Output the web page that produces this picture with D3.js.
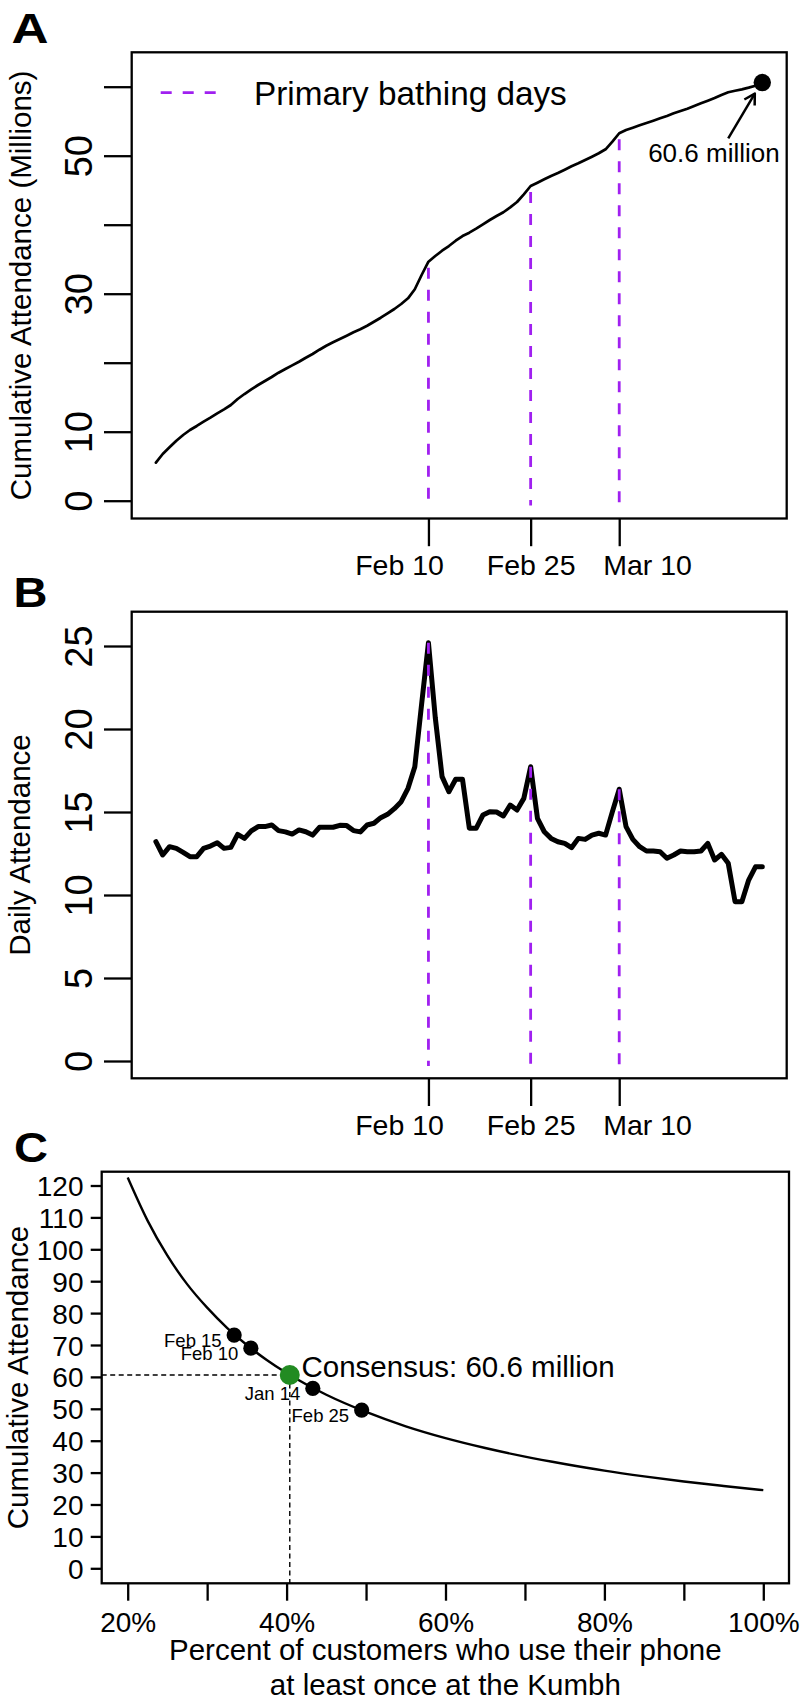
<!DOCTYPE html>
<html><head><meta charset="utf-8">
<script src="https://cdnjs.cloudflare.com/ajax/libs/d3/7.8.5/d3.min.js"></script>
<style>
body{margin:0;background:#fff}
svg{display:block;background:#fff}
text{font-family:"Liberation Sans",Arial,Helvetica,sans-serif}
</style>
</head><body>
<svg id="chart" width="800" height="1702"></svg>
<script>
// ---------------- DATA ----------------
const firstDay = "2013-01-01";
const lastDay = "2013-03-31";
const cumulativeMillions = [
  5.51, 6.77, 7.74, 8.70, 9.52, 10.25, 10.83, 11.45, 12.03, 12.66,
  13.24, 13.87, 14.74, 15.46, 16.14, 16.77, 17.35, 17.93, 18.55, 19.09,
  19.62, 20.14, 20.72, 21.26, 21.88, 22.46, 22.96, 23.43, 23.91, 24.41,
  24.84, 25.36, 25.94, 26.52, 27.16, 27.78, 28.51, 29.33, 30.64, 32.71,
  34.64, 35.46, 36.23, 36.91, 37.68, 38.36, 38.84, 39.42, 40.06, 40.68,
  41.26, 41.80, 42.52, 43.29, 44.41, 45.61, 46.09, 46.58, 47.06, 47.49,
  47.97, 48.46, 48.90, 49.38, 49.86, 50.35, 50.93, 52.03, 53.25, 53.72,
  54.06, 54.41, 54.74, 55.07, 55.42, 55.75, 56.14, 56.48, 56.81, 57.20,
  57.59, 57.97, 58.36, 58.80, 59.19, 59.42, 59.62, 59.86, 60.14, 60.60
];
const dailyAttendance = [
  13.21, 12.41, 12.91, 12.81, 12.57, 12.31, 12.31, 12.81, 12.95, 13.15,
  12.81, 12.87, 13.65, 13.41, 13.86, 14.12, 14.12, 14.22, 13.88, 13.80,
  13.67, 13.92, 13.81, 13.61, 14.08, 14.08, 14.08, 14.20, 14.18, 13.88,
  13.80, 14.22, 14.32, 14.66, 14.86, 15.20, 15.62, 16.43, 17.73, 21.50,
  25.20, 20.70, 17.13, 16.22, 16.97, 16.97, 14.02, 14.02, 14.82, 15.02,
  15.00, 14.76, 15.42, 15.12, 15.82, 17.73, 14.62, 13.81, 13.41, 13.21,
  13.11, 12.85, 13.41, 13.35, 13.61, 13.72, 13.61, 15.02, 16.37, 14.12,
  13.35, 12.91, 12.65, 12.65, 12.61, 12.21, 12.41, 12.65, 12.61, 12.61,
  12.65, 13.11, 12.11, 12.45, 11.91, 9.60, 9.60, 10.90, 11.70, 11.70
];
const bathingDays = ["2013-02-10", "2013-02-25", "2013-03-10"];
const bathingLabels = ["Feb 10", "Feb 25", "Mar 10"];
const cumTicks = [0, 10, 20, 30, 40, 50, 60];
const cumTickLabels = ["0", "10", "", "30", "", "50", ""];
const dailyTicks = [0, 5, 10, 15, 20, 25];
const legendLabel = "Primary bathing days";
const finalLabel = "60.6 million";
const finalValue = 60.6;
// annotation anchors (data units: day index, millions)
const finalLabelAt = [81.9, 49.1];
const arrowFrom = [84.0, 52.5];
const arrowTo = [87.9, 59.0];

const phoneShare = [0.20, 0.225, 0.25, 0.275, 0.30, 0.325, 0.35, 0.375, 0.40, 0.45, 0.50,
                    0.55, 0.60, 0.65, 0.70, 0.75, 0.80, 0.85, 0.90, 0.95, 1.00];
const impliedAttendance = [122.5, 109.0, 98.0, 89.0, 81.7, 75.4, 70.0, 65.3, 61.2, 54.4, 49.0,
                           44.5, 40.8, 37.7, 35.0, 32.7, 30.6, 28.8, 27.2, 25.8, 24.5];
const estimateDates = ["Feb 15", "Feb 10", "Jan 14", "Feb 25"];
const estimateShare = [0.334, 0.355, 0.433, 0.4945];
const estimateValue = [73.1, 69.0, 56.4, 49.6];
const consensusShare = 0.404;
const consensusValue = 60.6;
const consensusLabel = "Consensus: 60.6 million";
const cYTicks = [0, 10, 20, 30, 40, 50, 60, 70, 80, 90, 100, 110, 120];
const cXTicks = [0.2, 0.3, 0.4, 0.5, 0.6, 0.7, 0.8, 0.9, 1.0];
const cXTickLabels = ["20%", "", "40%", "", "60%", "", "80%", "", "100%"];

// ---------------- LAYOUT / STYLE ----------------
const PURPLE = "#A020F0", GREEN = "#228B22";
const frameA = {l: 131.7, r: 786.7, t: 52.3, b: 518.5};
const frameB = {l: 131.7, r: 786.7, t: 611.7, b: 1078.3};
const frameC = {l: 101.7, r: 789, t: 1171.7, b: 1583.3};
const labelAnchor = ["end", "middle", "start"];
const labelShift = [15, 0, -16.5];

const svg = d3.select("#chart");
const parse = d3.utcParse("%Y-%m-%d");
const days = d3.utcDay.range(parse(firstDay), d3.utcDay.offset(parse(lastDay), 1));

const x = d3.scaleUtc().domain([parse(firstDay), parse(lastDay)]).range([155.9, 762.3]);
const yA = d3.scaleLinear().domain([0, 60]).range([500.7, 86.7]);
const yB = d3.scaleLinear().domain([0, 25]).range([1061, 646]);
const xC = d3.scaleLinear().domain([0.2, 1]).range([127.7, 763.3]);
const yC = d3.scaleLinear().domain([0, 120]).range([1568.3, 1185.5]);
const dayScale = d3.scaleLinear().domain([0, days.length - 1]).range(x.range());

function frame(f) {
  svg.append("rect").attr("x", f.l).attr("y", f.t).attr("width", f.r - f.l).attr("height", f.b - f.t)
    .attr("fill", "none").attr("stroke", "#000").attr("stroke-width", 2.3);
}
function panelLetter(t, px, py, w) {
  svg.append("text").attr("x", px).attr("y", py).attr("font-size", 43).attr("font-weight", "bold")
    .attr("textLength", w).attr("lengthAdjust", "spacingAndGlyphs").text(t);
}
function yTitle(t, px, cy) {
  svg.append("text").attr("transform", `translate(${px},${cy}) rotate(-90)`).attr("text-anchor", "middle")
    .attr("font-size", 29.5).text(t);
}
function rotatedLeftAxis(scale, ticks, labels, f) {
  const g = svg.append("g").attr("transform", `translate(${f.l},0)`)
    .call(d3.axisLeft(scale).tickValues(ticks).tickSize(27.7).tickFormat((d, i) => labels[i]));
  g.attr("font-family", null).attr("font-size", null);
  g.select(".domain").remove();
  g.selectAll(".tick line").attr("stroke-width", 2.3);
  g.selectAll(".tick text").attr("x", null).attr("dy", null)
    .attr("transform", "translate(-39.7,0) rotate(-90)").attr("text-anchor", "middle")
    .attr("font-size", 38).attr("fill", "#000");
}
function dateAxis(f, baseline) {
  const g = svg.append("g").attr("transform", `translate(0,${f.b})`)
    .call(d3.axisBottom(x).tickValues(bathingDays.map(parse)).tickSize(27.7)
      .tickFormat((d, i) => bathingLabels[i]));
  g.attr("font-family", null).attr("font-size", null);
  g.select(".domain").remove();
  g.selectAll(".tick line").attr("stroke-width", 2.3);
  g.selectAll(".tick text").attr("dy", null).attr("y", baseline - f.b)
    .attr("text-anchor", (d, i) => labelAnchor[i]).attr("dx", (d, i) => labelShift[i])
    .attr("font-size", 28.5).attr("fill", "#000");
}

// ================= PANEL A =================
panelLetter("A", 11.5, 43.3, 37);
frame(frameA);
rotatedLeftAxis(yA, cumTicks, cumTickLabels, frameA);
dateAxis(frameA, 575);
yTitle("Cumulative Attendance (Millions)", 31, (frameA.t + frameA.b) / 2);

const cumData = days.map((d, i) => ({d, v: i === days.length - 1 ? finalValue : cumulativeMillions[i]}));
svg.append("path").datum(cumData)
  .attr("d", d3.line().x(p => x(p.d)).y(p => yA(p.v)))
  .attr("fill", "none").attr("stroke", "#000").attr("stroke-width", 2.7)
  .attr("stroke-linejoin", "round").attr("stroke-linecap", "round");

bathingDays.forEach(s => {
  const i = days.findIndex(d => +d === +parse(s));
  svg.append("line").attr("x1", x(parse(s))).attr("x2", x(parse(s)))
    .attr("y1", yA(cumulativeMillions[i]) + 6).attr("y2", yA(-0.7))
    .attr("stroke", PURPLE).attr("stroke-width", 2.8).attr("stroke-dasharray", "11,11");
});

// legend
svg.append("line").attr("x1", 160.7).attr("x2", 216.7).attr("y1", 92.7).attr("y2", 92.7)
  .attr("stroke", PURPLE).attr("stroke-width", 2.8).attr("stroke-dasharray", "11,11");
svg.append("text").attr("x", 254).attr("y", 105).attr("font-size", 33.3).text(legendLabel);

// end point + annotation
svg.append("circle").attr("cx", x(days[days.length - 1])).attr("cy", yA(finalValue)).attr("r", 8.7).attr("fill", "#000");
const ax1 = dayScale(arrowFrom[0]), ay1 = yA(arrowFrom[1]), ax2 = dayScale(arrowTo[0]), ay2 = yA(arrowTo[1]);
svg.append("line").attr("x1", ax1).attr("y1", ay1).attr("x2", ax2).attr("y2", ay2)
  .attr("stroke", "#000").attr("stroke-width", 2.5);
const ang = Math.atan2(ay2 - ay1, ax2 - ax1), hl = 12, ha = Math.PI / 6;
svg.append("path")
  .attr("d", `M${ax2 - hl * Math.cos(ang - ha)},${ay2 - hl * Math.sin(ang - ha)}L${ax2},${ay2}L${ax2 - hl * Math.cos(ang + ha)},${ay2 - hl * Math.sin(ang + ha)}`)
  .attr("fill", "none").attr("stroke", "#000").attr("stroke-width", 2.5).attr("stroke-linejoin", "round");
svg.append("text").attr("x", dayScale(finalLabelAt[0])).attr("y", yA(finalLabelAt[1]))
  .attr("text-anchor", "middle").attr("font-size", 26).text(finalLabel);

// ================= PANEL B =================
panelLetter("B", 13.5, 607.3, 34);
frame(frameB);
rotatedLeftAxis(yB, dailyTicks, dailyTicks.map(String), frameB);
dateAxis(frameB, 1135);
yTitle("Daily Attendance", 29.5, (frameB.t + frameB.b) / 2);

const dailyData = days.map((d, i) => ({d, v: dailyAttendance[i]}));
svg.append("path").datum(dailyData)
  .attr("d", d3.line().x(p => x(p.d)).y(p => yB(p.v)))
  .attr("fill", "none").attr("stroke", "#000").attr("stroke-width", 5)
  .attr("stroke-linejoin", "round").attr("stroke-linecap", "round");
bathingDays.forEach(s => {
  const i = days.findIndex(d => +d === +parse(s));
  svg.append("line").attr("x1", x(parse(s))).attr("x2", x(parse(s)))
    .attr("y1", yB(dailyAttendance[i])).attr("y2", yB(-0.3))
    .attr("stroke", PURPLE).attr("stroke-width", 2.8).attr("stroke-dasharray", "11,11");
});

// ================= PANEL C =================
panelLetter("C", 14, 1161.5, 34);
frame(frameC);
{
  const g = svg.append("g").attr("transform", `translate(${frameC.l},0)`)
    .call(d3.axisLeft(yC).tickValues(cYTicks).tickSize(11).tickFormat(d3.format("d")));
  g.attr("font-family", null).attr("font-size", null);
  g.select(".domain").remove();
  g.selectAll(".tick line").attr("stroke-width", 2.3);
  g.selectAll(".tick text").attr("x", -18.2).attr("dy", "0.36em").attr("text-anchor", "end")
    .attr("font-size", 28).attr("fill", "#000");
}
{
  const g = svg.append("g").attr("transform", `translate(0,${frameC.b})`)
    .call(d3.axisBottom(xC).tickValues(cXTicks).tickSize(17.4).tickFormat((d, i) => cXTickLabels[i]));
  g.attr("font-family", null).attr("font-size", null);
  g.select(".domain").remove();
  g.selectAll(".tick line").attr("stroke-width", 2.3);
  g.selectAll(".tick text").attr("dy", null).attr("y", 48.4).attr("font-size", 28).attr("fill", "#000");
}
yTitle("Cumulative Attendance", 28, (frameC.t + frameC.b) / 2);
const cMid = (frameC.l + frameC.r) / 2;
svg.append("text").attr("x", cMid).attr("y", 1660).attr("text-anchor", "middle").attr("font-size", 29.5)
  .text("Percent of customers who use their phone");
svg.append("text").attr("x", cMid).attr("y", 1695).attr("text-anchor", "middle").attr("font-size", 29.5)
  .text("at least once at the Kumbh");

svg.append("path").datum(phoneShare.map((p, i) => [p, impliedAttendance[i]]))
  .attr("d", d3.line().x(p => xC(p[0])).y(p => yC(p[1])).curve(d3.curveMonotoneX))
  .attr("fill", "none").attr("stroke", "#000").attr("stroke-width", 2.4);

// consensus guides
svg.append("line").attr("x1", frameC.l).attr("x2", xC(consensusShare))
  .attr("y1", yC(consensusValue)).attr("y2", yC(consensusValue))
  .attr("stroke", "#000").attr("stroke-width", 1.4).attr("stroke-dasharray", "5,3.5");
svg.append("line").attr("x1", xC(consensusShare)).attr("x2", xC(consensusShare))
  .attr("y1", yC(consensusValue)).attr("y2", frameC.b)
  .attr("stroke", "#000").attr("stroke-width", 1.4).attr("stroke-dasharray", "5,3.5");

estimateDates.forEach((lab, i) => {
  const cx = xC(estimateShare[i]), cy = yC(estimateValue[i]);
  svg.append("circle").attr("cx", cx).attr("cy", cy).attr("r", 7.6).attr("fill", "#000");
  svg.append("text").attr("x", cx - 12.5).attr("y", cy + 11.5).attr("text-anchor", "end")
    .attr("font-size", 18.5).text(lab);
});
svg.append("circle").attr("cx", xC(consensusShare)).attr("cy", yC(consensusValue)).attr("r", 10).attr("fill", GREEN);
svg.append("text").attr("x", xC(consensusShare) + 11.7).attr("y", yC(consensusValue) + 2)
  .attr("font-size", 29.5).text(consensusLabel);
</script>
</body></html>
